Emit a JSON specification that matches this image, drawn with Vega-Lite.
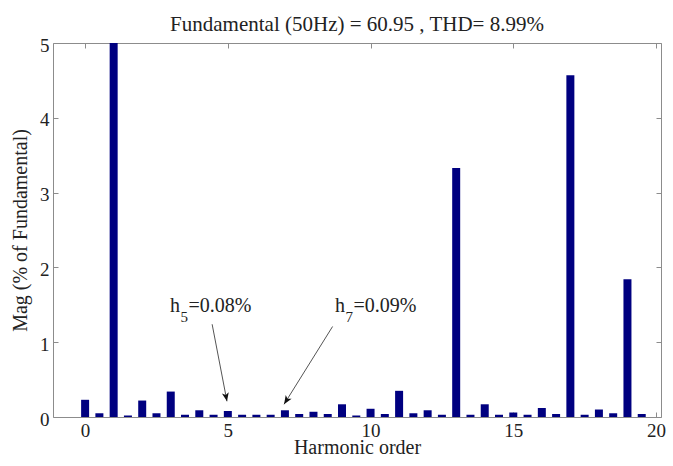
{
  "$schema": "https://vega.github.io/schema/vega-lite/v6.json",
  "autosize": "none",
  "width": 608,
  "height": 374,
  "padding": {"left": 53, "top": 43, "right": 12, "bottom": 49},
  "background": "white",
  "config": {
    "view": {"stroke": "#8c8c8c", "strokeWidth": 1},
    "font": "Liberation Serif",
    "axis": {"grid": false, "domain": false, "tickColor": "#8c8c8c", "tickSize": -5, "labelColor": "#222", "labelFont": "Liberation Serif", "labelFontSize": 19, "titleFont": "Liberation Serif", "titleFontSize": 20, "titleFontWeight": "normal", "titleColor": "#222"}
  },
  "title": {"text": "Fundamental (50Hz) = 60.95 , THD= 8.99%", "font": "Liberation Serif", "fontSize": 21, "fontWeight": "normal", "color": "#222", "offset": 1},
  "datasets": {
    "bars": [
      {"h": 0, "mag": 0.23}, {"h": 0.5, "mag": 0.05}, {"h": 1, "mag": 100}, {"h": 1.5, "mag": 0.02},
      {"h": 2, "mag": 0.22}, {"h": 2.5, "mag": 0.05}, {"h": 3, "mag": 0.34}, {"h": 3.5, "mag": 0.03},
      {"h": 4, "mag": 0.09}, {"h": 4.5, "mag": 0.03}, {"h": 5, "mag": 0.08}, {"h": 5.5, "mag": 0.03},
      {"h": 6, "mag": 0.03}, {"h": 6.5, "mag": 0.03}, {"h": 7, "mag": 0.09}, {"h": 7.5, "mag": 0.04},
      {"h": 8, "mag": 0.07}, {"h": 8.5, "mag": 0.04}, {"h": 9, "mag": 0.17}, {"h": 9.5, "mag": 0.02},
      {"h": 10, "mag": 0.11}, {"h": 10.5, "mag": 0.04}, {"h": 11, "mag": 0.35}, {"h": 11.5, "mag": 0.05},
      {"h": 12, "mag": 0.09}, {"h": 12.5, "mag": 0.03}, {"h": 13, "mag": 3.33}, {"h": 13.5, "mag": 0.03},
      {"h": 14, "mag": 0.17}, {"h": 14.5, "mag": 0.03}, {"h": 15, "mag": 0.06}, {"h": 15.5, "mag": 0.03},
      {"h": 16, "mag": 0.12}, {"h": 16.5, "mag": 0.04}, {"h": 17, "mag": 4.57}, {"h": 17.5, "mag": 0.03},
      {"h": 18, "mag": 0.1}, {"h": 18.5, "mag": 0.05}, {"h": 19, "mag": 1.84}, {"h": 19.5, "mag": 0.04}
    ],
    "notes": [
      {"id": "h5", "x": 2.97, "y": 1.41, "sub": "5", "rest": "=0.08%"},
      {"id": "h7", "x": 8.75, "y": 1.40, "sub": "7", "rest": "=0.09%"}
    ],
    "arrows": [
      {"id": "h5", "x": 4.45, "y": 1.24, "x2": 4.97, "y2": 0.21},
      {"id": "h7", "x": 8.67, "y": 1.21, "x2": 6.97, "y2": 0.17}
    ]
  },
  "resolve": {"axis": {"x": "independent", "y": "independent"}},
  "layer": [
    {
      "data": {"name": "bars"},
      "mark": {"type": "bar", "color": "#000080", "size": 8, "clip": true},
      "encoding": {
        "x": {"field": "h", "type": "quantitative", "scale": {"domain": [-0.95, 20], "nice": false, "zero": false},
              "axis": {"orient": "bottom", "values": [0, 5, 10, 15, 20], "format": "d", "title": "Harmonic order", "labelPadding": 9, "titleY": 36, "titleBaseline": "alphabetic"}},
        "y": {"field": "mag", "type": "quantitative", "scale": {"domain": [0, 5], "nice": false},
              "axis": {"orient": "left", "values": [0, 1, 2, 3, 4, 5], "format": "d", "title": "Mag (% of Fundamental)", "labelPadding": 9, "labelOffset": 2, "titleX": -27, "titleBaseline": "alphabetic"}}
      }
    },
    {
      "data": {"name": "bars"},
      "mark": {"type": "point", "opacity": 0, "clip": true},
      "encoding": {
        "x": {"field": "h", "type": "quantitative", "axis": {"orient": "top", "values": [0, 5, 10, 15, 20], "labels": false, "title": null}},
        "y": {"field": "mag", "type": "quantitative", "axis": {"orient": "right", "values": [0, 1, 2, 3, 4, 5], "labels": false, "title": null}}
      }
    },
    {
      "data": {"name": "arrows"},
      "mark": {"type": "rule", "color": "#555", "strokeWidth": 1},
      "encoding": {
        "x": {"field": "x", "type": "quantitative", "axis": null},
        "y": {"field": "y", "type": "quantitative", "axis": null},
        "x2": {"field": "x2"},
        "y2": {"field": "y2"}
      }
    },
    {
      "data": {"name": "arrows"},
      "transform": [{"filter": "datum.id === 'h5'"}],
      "mark": {"type": "point", "shape": "M0,0 L-0.4,-1 L0,-0.75 L0.4,-1 Z", "filled": true, "color": "#111", "size": 300, "opacity": 1, "angle": -11},
      "encoding": {
        "x": {"field": "x2", "type": "quantitative", "axis": null},
        "y": {"field": "y2", "type": "quantitative", "axis": null}
      }
    },
    {
      "data": {"name": "arrows"},
      "transform": [{"filter": "datum.id === 'h7'"}],
      "mark": {"type": "point", "shape": "M0,0 L-0.4,-1 L0,-0.75 L0.4,-1 Z", "filled": true, "color": "#111", "size": 300, "opacity": 1, "angle": 32},
      "encoding": {
        "x": {"field": "x2", "type": "quantitative", "axis": null},
        "y": {"field": "y2", "type": "quantitative", "axis": null}
      }
    },
    {
      "data": {"name": "notes"},
      "mark": {"type": "text", "text": "h", "align": "left", "baseline": "alphabetic", "fontSize": 20, "color": "#222", "font": "Liberation Serif"},
      "encoding": {
        "x": {"field": "x", "type": "quantitative", "axis": null},
        "y": {"field": "y", "type": "quantitative", "axis": null}
      }
    },
    {
      "data": {"name": "notes"},
      "mark": {"type": "text", "align": "left", "baseline": "alphabetic", "fontSize": 15, "dx": 10.5, "dy": 10, "color": "#222", "font": "Liberation Serif"},
      "encoding": {
        "x": {"field": "x", "type": "quantitative", "axis": null},
        "y": {"field": "y", "type": "quantitative", "axis": null},
        "text": {"field": "sub"}
      }
    },
    {
      "data": {"name": "notes"},
      "mark": {"type": "text", "align": "left", "baseline": "alphabetic", "fontSize": 20, "dx": 18.5, "color": "#222", "font": "Liberation Serif"},
      "encoding": {
        "x": {"field": "x", "type": "quantitative", "axis": null},
        "y": {"field": "y", "type": "quantitative", "axis": null},
        "text": {"field": "rest"}
      }
    }
  ]
}
